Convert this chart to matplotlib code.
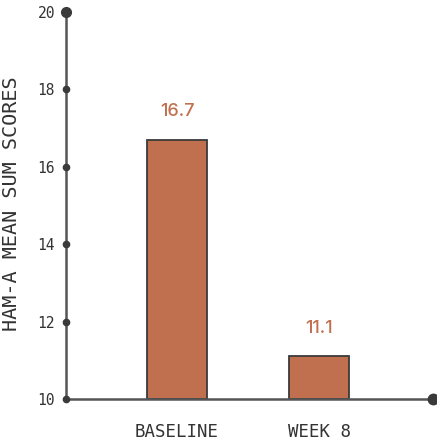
import matplotlib
matplotlib.use("Agg")
import matplotlib.pyplot as plt

categories = ["BASELINE", "WEEK 8"]
values = [16.7, 11.1]
value_labels = ["16.7", "11.1"]
yticks = [10, 12, 14, 16, 18, 20]

bar_color = "#C0704E"
edge_color = "#3a3a3a"
axis_color = "#555555"
text_color = "#333333"
mono = ["DejaVu Sans Mono"]

fig = plt.figure(figsize=(4.37, 4.41), dpi=100)
W, H = 437, 441
x0, x1, y0, y1 = 66, 433, 399, 12
ax = fig.add_axes([x0 / W, (H - y0) / H, (x1 - x0) / W, (y0 - y1) / H])

xpos = list(range(len(categories)))
ax.bar(xpos, [v - 10 for v in values], bottom=10, width=0.42, color=bar_color,
       edgecolor=edge_color, linewidth=1.3, zorder=2)

ax.set_xlim(-0.78, 1.80)
ax.set_ylim(10, 20)

for s in ["top", "right"]:
    ax.spines[s].set_visible(False)
for s in ["left", "bottom"]:
    ax.spines[s].set_color(axis_color)
    ax.spines[s].set_linewidth(1.8)

ax.set_yticks(yticks)
ax.set_yticklabels([str(t) for t in yticks], family=mono, fontsize=10.5, color=text_color)
ax.tick_params(axis="y", length=0, pad=8)
ax.set_xticks(xpos)
ax.set_xticklabels(categories, family=mono, fontsize=12.5, color=text_color)
ax.tick_params(axis="x", length=0, pad=17)

# tick dots
ax.plot([-0.78] * (len(yticks) - 1), yticks[:-1], "o", color=edge_color, ms=4.5,
        clip_on=False, zorder=5)
ax.plot([-0.78], [yticks[-1]], "o", color=edge_color, ms=7, clip_on=False, zorder=5)
ax.plot([1.80], [10], "o", color=edge_color, ms=7.5, clip_on=False, zorder=5)

for x, v, lab in zip(xpos, values, value_labels):
    ax.annotate(lab, (x, v), xytext=(0, 20), textcoords="offset points",
                ha="center", va="center", fontsize=13, color=bar_color,
                fontweight="medium", family=["Inter", "DejaVu Sans"])

fig.text(12 / W, 1 - 204 / H, "HAM-A MEAN SUM SCORES", rotation=90, ha="center",
         va="center", family=mono, fontsize=14.5, color=text_color)

fig.savefig("out.png", dpi=100)
